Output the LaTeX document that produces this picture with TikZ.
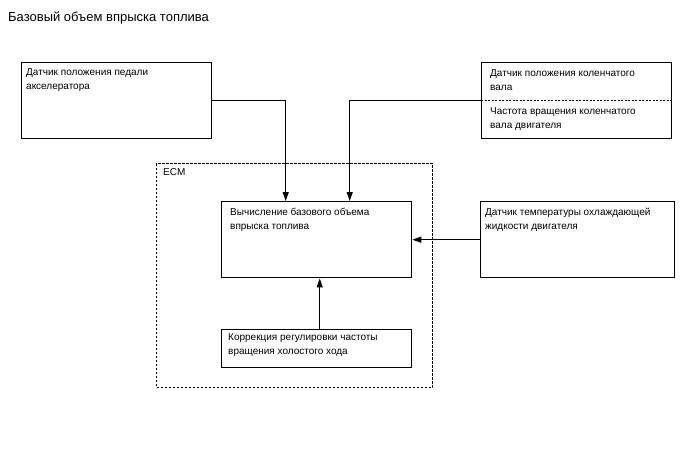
\documentclass[tikz,border=0pt]{standalone}
\usepackage{fontspec}
\setmainfont{Liberation Sans}
\usetikzlibrary{arrows.meta,positioning}

\begin{document}
\begin{tikzpicture}[x=1pt,y=-1pt,every node/.style={font=\fontsize{10}{14}\selectfont}]
  \useasboundingbox (0,0) rectangle (688,463);

  \tikzset{
    blk/.style={draw,line width=1.4pt,inner sep=0pt,anchor=north west},
    txt/.style={anchor=north west,align=left,inner sep=0pt},
    arr/.style={-{Triangle[length=9pt,width=6pt]},line width=1.2pt}
  }

  % Title
  \node[txt,font=\fontsize{13}{15}\selectfont] (title) at (8,12)
    {Базовый объем впрыска топлива};

  % ECM frame
  \node[blk,draw=black,dash pattern=on 2.4pt off 1.6pt,line width=1.4pt,
    minimum width=276pt,minimum height=224pt] (ecm) at (156,163) {};
  \node[txt,below right=5pt and 7pt of ecm.north west] (ecmtxt) {ECM};

  % Sensors
  \node[blk,minimum width=190pt,minimum height=76pt] (pedal) at (21,62) {};
  \node[txt,below right=6pt and 5pt of pedal.north west] (pedaltxt)
    {Датчик положения педали\\акселератора};

  \node[blk,minimum width=190pt,minimum height=76pt] (crank) at (481,62) {};
  \node[txt,below right=7pt and 9pt of crank.north west] (cranktxt)
    {Датчик положения коленчатого\\вала};
  \draw[dash pattern=on 2pt off 1.5pt,line width=1.1pt] (crank.west) -- (crank.east);
  \node[txt,below right=7pt and 9pt of crank.west] (rpmtxt)
    {Частота вращения коленчатого\\вала двигателя};

  \node[blk,minimum width=194pt,minimum height=76pt] (cool) at (480,201) {};
  \node[txt,below right=7pt and 5pt of cool.north west] (cooltxt)
    {Датчик температуры охлаждающей\\жидкости двигателя};

  % Inside ECM
  \node[blk,minimum width=190pt,minimum height=76pt] (calc) at (221,201) {};
  \node[txt,below right=7pt and 9pt of calc.north west] (calctxt)
    {Вычисление базового объема\\впрыска топлива};

  \node[blk,minimum width=190pt,minimum height=38pt] (idle) at (221,329) {};
  \node[txt,below right=4pt and 7pt of idle.north west] (idletxt)
    {Коррекция регулировки частоты\\вращения холостого хода};

  % Connectors
  \draw[arr] (pedal.east) -| ([xshift=-31pt]calc.north);
  \draw[arr] (crank.west) -| ([xshift=33pt]calc.north);
  \draw[arr] (cool.west) -- (calc.east);
  \draw[arr] ([xshift=3pt]idle.north) -- ([xshift=3pt]calc.south);
\end{tikzpicture}
\end{document}
